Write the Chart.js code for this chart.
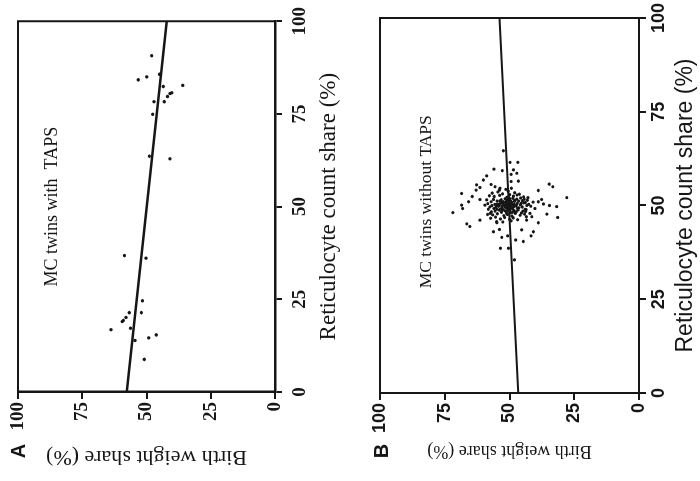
<!DOCTYPE html>
<html><head><meta charset="utf-8">
<script src="https://cdn.jsdelivr.net/npm/chart.js@4/dist/chart.umd.min.js"></script>
<style>
html,body{margin:0;padding:0;background:#fff;overflow:hidden;width:700px;height:481px}
#rot{position:absolute;left:0;top:0;width:481px;height:700px;transform-origin:0 0;transform:translate(0,481px) rotate(-90deg);}
.pane{position:absolute;left:0;width:481px;height:350px}
canvas{display:block}
</style></head><body>
<div id="rot">
<div class="pane" style="top:0"><canvas id="ca" width="481" height="350"></canvas></div>
<div class="pane" style="top:350px"><canvas id="cb" width="481" height="350"></canvas></div>
</div>
<script>
// ---- data ----
const tickValues = [0, 25, 50, 75, 100];
const xTitle = 'Reticulocyte count share (%)';
const yTitle = 'Birth weight share (%)';
const labelA = 'MC twins with  TAPS';
const labelB = 'MC twins without TAPS';

// Panel A: reticulocyte count share (x) and birth weight share (y)
const retA = [90.7,85.7,85.0,84.2,82.7,82.4,80.7,80.5,79.7,78.3,78.3,74.9,63.6,62.9,36.8,36.1,24.6,21.4,21.4,20.1,19.3,19.0,16.8,17.2,15.4,14.6,13.9,8.8];
const bwA  = [48.0,45.0,49.9,53.2,35.9,43.5,40.2,40.9,41.8,47.1,43.1,47.6,48.9,40.9,58.6,50.2,51.6,56.7,52.0,58.0,59.0,59.5,63.8,56.2,46.2,49.1,54.5,50.9];
const fitRetA = [0, 100];
const fitBwA  = [57.7, 42.1];

// Panel B
const retB = [64.6,61.5,61.5,59.7,59.3,58.3,58.6,57.9,56.8,56.5,56.4,55.5,54.8,54.1,55.6,55.0,54.6,55.7,55.0,54.0,53.2,52.4,51.0,51.6,52.1,48.1,50.1,49.2,45.1,44.4,46.1,49.7,46.8,50.0,47.7,47.0,45.4,43.0,41.9,43.6,41.5,41.9,38.6,38.6,40.8,40.4,35.5,43.0,45.7,51.6,50.4,51.0,47.9,46.1,43.5,51.5,50.1,49.0,47.9,59.5,
50.2,49.8,50.5,49.5,50.1,50.8,49.3,50.0,50.4,49.7,50.9,49.1,50.3,49.9,50.6,49.4,50.2,49.6,50.7,49.0,50.0,51.2,51.5,51.0,51.8,51.3,51.6,51.1,51.9,51.4,51.7,51.2,52.0,48.5,48.8,48.2,48.9,48.4,48.7,48.1,48.6,48.3,48.8,48.0,52.4,52.7,52.2,52.9,52.5,52.8,52.3,47.5,47.8,47.3,47.6,47.2,47.9,47.4,47.7,53.3,53.6,53.1,53.8,53.4,53.0,46.6,46.9,46.4,46.8,46.3,46.7,46.2,54.3,54.6,54.1,45.6,45.9,45.4,50.0,49.6,50.5,49.2,51.0,50.3,49.8,51.4,48.9,50.1,49.9,50.3,49.7,50.6,49.4,50.2,49.6,50.8,49.1,50.4,51.3,48.5,52.1,47.0,50.9,49.2,51.6,48.3,52.6,47.6,
50.1,49.9,50.4,49.5,50.7,49.2,50.9,50.5,49.8,50.2,49.7,51.1,48.9,51.5,48.6,50.0,51.2,48.8,50.6,49.3,51.8,48.2,52.2,47.9,50.3,49.0,51.7,48.4,50.8,49.5];
const bwB  = [52.4,49.8,46.8,56.0,52.8,49.4,47.2,58.8,60.1,46.6,49.4,62.7,61.4,62.9,57.1,55.6,53.7,34.7,33.3,38.9,68.5,64.4,65.8,61.4,27.9,71.9,68.5,68.1,66.5,65.3,61.4,31.8,31.4,34.6,35.6,41.4,38.9,40.8,41.7,53.9,53.0,50.7,53.5,50.4,47.6,44.7,48.1,56.2,55.0,37.6,36.9,38.9,42.1,43.4,45.3,58.8,59.5,58.2,57.5,48.5,
55.1,54.3,53.6,52.8,52.1,51.5,51.0,50.6,50.1,49.7,49.2,48.8,48.3,47.6,47.0,46.4,45.8,45.1,44.5,44.0,43.3,54.8,53.2,52.4,51.7,50.9,50.2,49.5,48.7,47.9,47.2,46.5,45.7,55.6,54.0,53.1,52.5,51.3,50.4,49.6,48.2,47.4,46.7,45.4,55.9,53.8,51.0,49.9,48.5,47.1,44.6,56.5,54.7,52.2,50.8,49.1,47.8,45.9,44.2,56.7,54.5,52.7,50.5,48.0,46.2,57.3,55.4,53.5,51.9,50.0,48.6,46.9,51.4,49.3,53.9,52.6,49.4,54.9,56.8,57.6,58.4,56.0,57.1,42.6,41.8,43.1,43.6,51.8,51.3,49.9,50.4,50.8,49.3,48.9,50.0,53.0,53.4,54.6,45.0,44.8,42.9,43.5,40.9,40.2,56.2,57.0,57.8,58.5,
50.9,50.3,49.4,51.6,51.2,50.7,50.5,52.5,53.0,47.3,48.4,48.1,49.8,51.1,51.8,54.1,53.7,52.9,45.5,47.0,49.8,48.9,50.4,51.1,55.7,54.9,44.3,43.8,43.9,55.3];
const fitRetB = [0, 100];
const fitBwB  = [46.6, 53.9];

// ---- helpers ----
const INK = '#161616';
function pts(xs, ys){ return xs.map((x,i)=>({x:x, y:ys[i]})); }
function setTicks(s){ s.ticks = tickValues.map(v=>({value:v})); }

function makeChart(id, cfg){
  const frame = {
    id:'frame',
    afterDatasetsDraw(chart){
      const a = chart.chartArea, c = chart.ctx;
      c.save(); c.strokeStyle = INK; c.lineWidth = cfg.frameW;
      c.strokeRect(a.left, a.top, a.right-a.left, a.bottom-a.top);
      c.restore();
    }
  };
  const notes = {
    id:'notes',
    afterDraw(chart){
      const c = chart.ctx, a = chart.chartArea, sx = chart.scales.x, sy = chart.scales.y;
      c.save(); c.fillStyle = INK; c.textAlign='center'; c.textBaseline='middle';
      c.font = cfg.noteFont;
      c.fillText(cfg.note, sx.getPixelForValue(cfg.noteAt[0]), sy.getPixelForValue(cfg.noteAt[1]));
      c.font = 'bold 20px "Liberation Sans", Arial, sans-serif';
      c.fillText(cfg.letter, 30, a.top + cfg.letterDy);
      c.restore();
    }
  };
  return new Chart(document.getElementById(id), {
    type:'scatter',
    data:{datasets:[
      {data:pts(cfg.ret, cfg.bw), pointRadius:cfg.pr, pointHoverRadius:cfg.pr, backgroundColor:INK, borderWidth:0},
      {type:'line', data:pts(cfg.fitRet, cfg.fitBw), borderColor:INK, borderWidth:cfg.lineW, pointRadius:0, fill:false}
    ]},
    options:{
      responsive:false, animation:false, events:[],
      plugins:{legend:{display:false}, tooltip:{enabled:false}},
      layout:{padding:{top:cfg.padTop, right:18, left:0, bottom:0}},
      scales:{
        x:{type:'linear', min:0, max:100, afterBuildTicks:setTicks,
           ticks:{font:cfg.tickFont, color:INK, padding:cfg.xTickPad, maxRotation:0},
           grid:{drawOnChartArea:false, tickLength:7, lineWidth:2, color:INK},
           border:{color:INK, width:cfg.axisW},
           title:{display:true, text:xTitle, font:cfg.xTitleFont, color:INK, padding:{top:0,bottom:cfg.xTitlePad}},
           afterFit(s){ s.height = cfg.xH; }},
        y:{type:'linear', min:0, max:100, afterBuildTicks:setTicks,
           ticks:{font:cfg.tickFont, color:INK, padding:3},
           grid:{drawOnChartArea:false, tickLength:7, lineWidth:2, color:INK},
           border:{color:INK, width:cfg.axisW},
           title:{display:true, text:yTitle, font:cfg.yTitleFont, color:INK, padding:{top:cfg.yTitlePad,bottom:0}},
           afterFit(s){ s.width = cfg.yW; }}
      }
    },
    plugins:[frame, notes]
  });
}

makeChart('ca', {
  ret:retA, bw:bwA, fitRet:fitRetA, fitBw:fitBwA, pr:1.7, lineW:2.5, axisW:2.5, frameW:2,
  padTop:18, xH:75, yW:89, xTickPad:7, xTitlePad:7, yTitlePad:11,
  tickFont:{family:'"Liberation Serif", serif', size:19, weight:'bold'},
  xTitleFont:{family:'"Liberation Serif", serif', size:23},
  yTitleFont:{family:'"Liberation Serif", serif', size:22},
  note:labelA, noteFont:'18px "Liberation Serif", serif', noteAt:[50, 86.8],
  letter:'A', letterDy:1
});
makeChart('cb', {
  ret:retB, bw:bwB, fitRet:fitRetB, fitBw:fitBwB, pr:1.6, lineW:2, axisW:2, frameW:2,
  padTop:30, xH:61, yW:88, xTickPad:2, xTitlePad:1, yTitlePad:19,
  tickFont:{family:'"Liberation Sans", Arial, sans-serif', size:18, weight:'bold'},
  xTitleFont:{family:'"Liberation Sans", Arial, sans-serif', size:23},
  yTitleFont:{family:'"Liberation Serif", serif', size:18},
  note:labelB, noteFont:'17.5px "Liberation Serif", serif', noteAt:[51, 81.9],
  letter:'B', letterDy:2
});
</script>
</body></html>
